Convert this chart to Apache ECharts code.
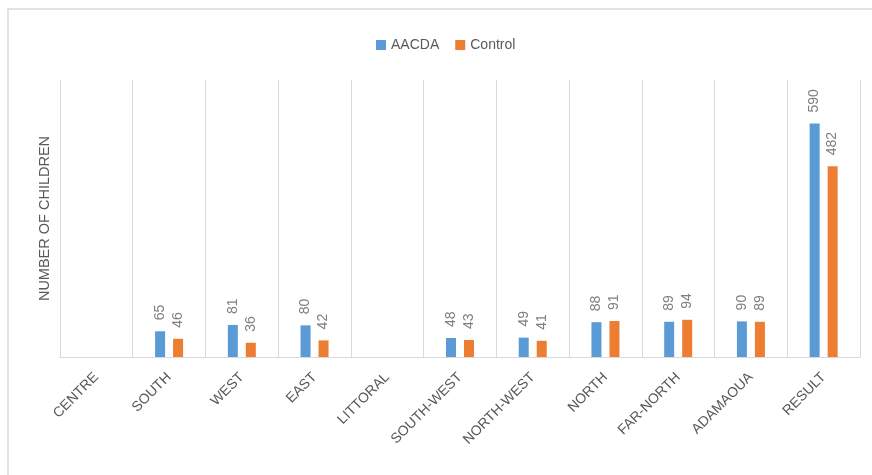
<!DOCTYPE html>
<html>
<head>
<meta charset="utf-8">
<style>
  html, body { margin: 0; padding: 0; background: #ffffff; }
  #chart { width: 872px; height: 475px; }
</style>
<script src="https://cdn.jsdelivr.net/npm/echarts@6/dist/echarts.min.js"></script>
</head>
<body>
<div id="chart"></div>
<script>
// Regions and the two groups of children counted in each
const regions = ['CENTRE', 'SOUTH', 'WEST', 'EAST', 'LITTORAL', 'SOUTH-WEST',
                 'NORTH-WEST', 'NORTH', 'FAR-NORTH', 'ADAMAOUA', 'RESULT'];
const aacda   = [null, 65, 81, 80, null, 48, 49, 88, 89, 90, 590];
const control = [null, 46, 36, 42, null, 43, 41, 91, 94, 89, 482];
const seriesNames = ['AACDA', 'Control'];

const chart = echarts.init(document.getElementById('chart'), null, { renderer: 'canvas' });

const FONT = 'Liberation Sans';
const barLabel = {
  show: true,
  position: 'top',
  rotate: 90,
  align: 'left',
  verticalAlign: 'middle',
  distance: 11,
  color: '#7f7f7f',
  fontSize: 14,
  fontFamily: FONT
};

chart.setOption({
  animation: false,
  backgroundColor: '#ffffff',
  graphic: [{
    type: 'rect',
    shape: { x: 8, y: 9, width: 900, height: 520 },
    style: { fill: 'none', stroke: '#d9d9d9', lineWidth: 1.5 },
    silent: true,
    z: -10
  }],
  legend: {
    data: seriesNames,
    left: 371,
    top: 33,
    itemWidth: 10,
    itemHeight: 10,
    itemGap: 16,
    icon: 'rect',
    textStyle: { color: '#595959', fontSize: 14, fontFamily: FONT }
  },
  grid: { left: 60, right: 12, top: 80, bottom: 118, containLabel: false },
  xAxis: {
    type: 'category',
    data: regions,
    axisLine: { lineStyle: { color: '#d9d9d9', width: 1 } },
    axisTick: { show: false },
    splitLine: { show: true, lineStyle: { color: '#d9d9d9', width: 1 } },
    axisLabel: {
      interval: 0,
      rotate: 45,
      margin: 18,
      color: '#595959',
      fontSize: 14,
      fontFamily: FONT
    }
  },
  yAxis: {
    type: 'value',
    min: 0,
    max: 700,
    axisLine: { show: false },
    axisTick: { show: false },
    axisLabel: { show: false },
    splitLine: { show: false },
    name: 'NUMBER OF CHILDREN',
    nameLocation: 'middle',
    nameGap: 8,
    nameTextStyle: { color: '#595959', fontSize: 14.5, fontFamily: FONT }
  },
  series: [
    {
      name: seriesNames[0],
      type: 'bar',
      data: aacda,
      barWidth: 10,
      barGap: '80%',
      itemStyle: { color: '#5b9bd5' },
      label: barLabel
    },
    {
      name: seriesNames[1],
      type: 'bar',
      data: control,
      barWidth: 10,
      itemStyle: { color: '#ed7d31' },
      label: barLabel
    }
  ]
});
</script>
</body>
</html>
